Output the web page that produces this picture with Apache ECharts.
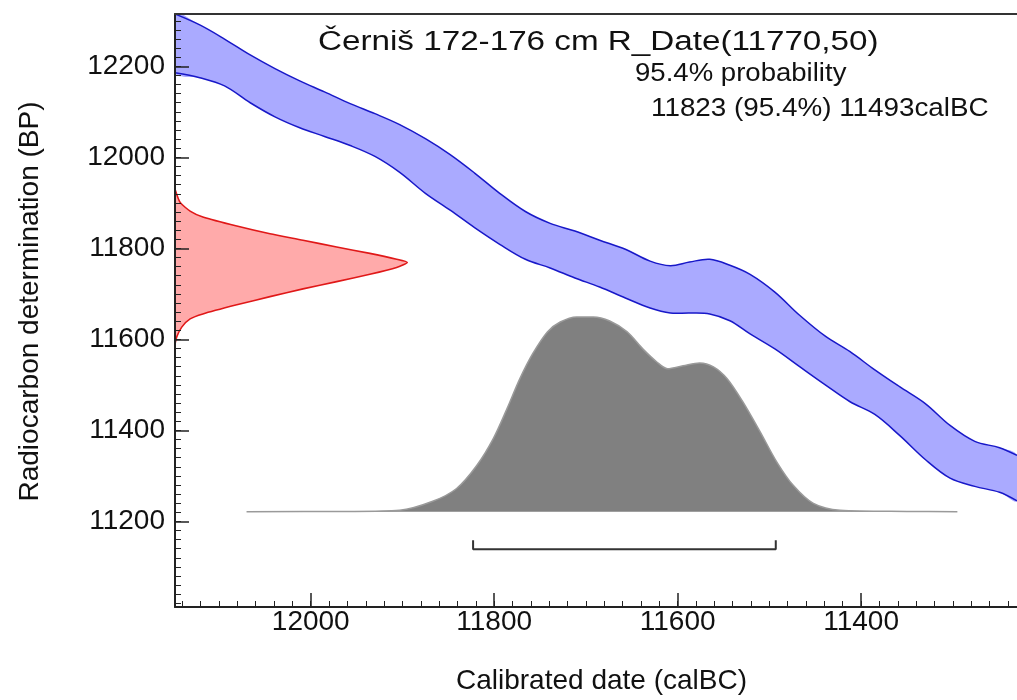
<!DOCTYPE html>
<html>
<head>
<meta charset="utf-8">
<title>Černiš 172-176 cm R_Date(11770,50)</title>
<script src="https://cdn.jsdelivr.net/npm/echarts@6/dist/echarts.min.js"></script>
<style>
html, body { margin: 0; padding: 0; background: #fff; }
#chart { width: 1017px; height: 700px; }
</style>
</head>
<body>
<div id="chart"></div>
<script>
// calibration curve band (calBC -> BP), upper and lower edge
var calBC = [12148, 12121, 12094, 12066, 12039, 12012, 11985, 11957, 11930, 11903, 11875, 11848,
	11821, 11794, 11766, 11739, 11712, 11685, 11657, 11630, 11608, 11587, 11565, 11543,
	11521, 11494, 11467, 11439, 11412, 11385, 11358, 11330, 11303, 11276, 11249, 11230];
var curveUpper = [12315, 12291, 12260, 12225, 12195, 12168, 12144, 12118, 12096, 12072, 12041, 12006,
	11965, 11921, 11881, 11855, 11838, 11818, 11798, 11772, 11762, 11770, 11776, 11763,
	11743, 11704, 11653, 11607, 11573, 11533, 11496, 11459, 11411, 11376, 11362, 11345];
var curveLower = [12186, 12175, 12157, 12120, 12089, 12065, 12046, 12026, 12002, 11967, 11921, 11884,
	11845, 11809, 11776, 11757, 11735, 11715, 11691, 11669, 11658, 11658, 11656, 11641,
	11612, 11579, 11540, 11500, 11463, 11435, 11389, 11336, 11295, 11277, 11264, 11245];

// radiocarbon determination R_Date(11770,50), relative probability
var rdateBP = [11930, 11901, 11882, 11869, 11849, 11832, 11818, 11803, 11789, 11776, 11769,
	11758, 11743, 11727, 11711, 11694, 11676, 11656, 11645, 11627, 11605, 11590];
var rdateProb = [0, 0.022, 0.065, 0.12, 0.266, 0.409, 0.551, 0.696, 0.839, 0.954, 1,
	0.954, 0.839, 0.696, 0.551, 0.409, 0.266, 0.12, 0.065, 0.029, 0.007, 0];

// calibrated date, relative probability
var postBC = [12070, 11960, 11903, 11867, 11841, 11819, 11801, 11786, 11772, 11758, 11742, 11728, 11710,
	11692, 11674, 11655, 11638, 11623, 11611, 11594, 11576, 11561, 11546, 11529, 11510,
	11492, 11474, 11452, 11423, 11350, 11295];
var postProb = [0, 0.001, 0.007, 0.053, 0.119, 0.237, 0.375, 0.529, 0.683, 0.811, 0.923, 0.974, 1.0,
	1.0, 0.979, 0.923, 0.836, 0.77, 0.734, 0.749, 0.764, 0.744, 0.683, 0.565, 0.41,
	0.256, 0.135, 0.042, 0.007, 0.001, 0];

// 95.4% range
var range954 = [11823, 11493];

// ticks
var xTicks = [12000, 11800, 11600, 11400];
var yTicks = [11200, 11400, 11600, 11800, 12000, 12200];
var xMinor = [];
for (var v = 11240; v <= 12140; v += 20) xMinor.push(v);
var yMinor = [];
for (var w = 11020; w <= 12300; w += 20) yMinor.push(w);

var font = 'Liberation Sans';
var xMin = 11230, xMax = 12148, yMin = 11012, yMax = 12315;
var axisColor = '#222';

var chart = echarts.init(document.getElementById('chart'));

function plain(v) { return String(v); }

var option = {
	animation: false,
	backgroundColor: '#fff',
	grid: { left: 175, right: 0, top: 14, bottom: 91, containLabel: false },
	xAxis: [
		{
			type: 'value', min: xMin, max: xMax, inverse: true, position: 'bottom', z: 5,
			axisLine: { show: true, onZero: false, lineStyle: { color: axisColor, width: 2 } },
			axisTick: { show: true, inside: true, length: 14, customValues: xTicks, lineStyle: { color: axisColor, width: 1.5 } },
			axisLabel: { customValues: xTicks, formatter: plain, margin: 1, color: '#111', fontSize: 28, fontFamily: font },
			splitLine: { show: false },
			name: 'Calibrated date (calBC)', nameLocation: 'middle', nameGap: 60,
			nameTextStyle: { color: '#111', fontSize: 28, fontFamily: font, padding: [0, 0, 0, 11] }
		},
		{
			// minor ticks
			type: 'value', min: xMin, max: xMax, inverse: true, position: 'bottom', z: 5,
			axisLine: { show: false, onZero: false },
			axisTick: { show: true, inside: true, length: 6, customValues: xMinor, lineStyle: { color: axisColor, width: 1 } },
			axisLabel: { show: false },
			splitLine: { show: false }
		},
		{
			// relative probability of the R_Date, drawn sideways from the y axis
			type: 'value', min: 0, max: 3.6246, show: false,
			axisLine: { onZero: false }
		},
		{
			// top frame line
			type: 'value', min: xMin, max: xMax, inverse: true, position: 'top', z: 5,
			axisLine: { show: true, onZero: false, lineStyle: { color: '#333', width: 2 } },
			axisTick: { show: false },
			axisLabel: { show: false },
			splitLine: { show: false }
		}
	],
	yAxis: [
		{
			type: 'value', min: yMin, max: yMax, position: 'left', z: 5,
			axisLine: { show: true, onZero: false, lineStyle: { color: axisColor, width: 2 } },
			axisTick: { show: true, inside: true, length: 14, customValues: yTicks, lineStyle: { color: axisColor, width: 1.5 } },
			axisLabel: { customValues: yTicks, formatter: plain, margin: 10, color: '#111', fontSize: 28, fontFamily: font },
			splitLine: { show: false },
			name: 'Radiocarbon determination (BP)', nameLocation: 'middle', nameRotate: 90, nameGap: 131,
			nameTextStyle: { color: '#111', fontSize: 28, fontFamily: font, padding: [0, 0, 0, 18] }
		},
		{
			// minor ticks
			type: 'value', min: yMin, max: yMax, position: 'left', z: 5,
			axisLine: { show: false, onZero: false },
			axisTick: { show: true, inside: true, length: 6, customValues: yMinor, lineStyle: { color: axisColor, width: 1 } },
			axisLabel: { show: false },
			splitLine: { show: false }
		},
		{
			// relative probability of the calibrated date
			type: 'value', min: -0.4898, max: 2.556, show: false,
			axisLine: { onZero: false }
		}
	],
	graphic: [
		{
			type: 'text', x: 318, y: 42.5, scaleX: 1.23, z: 10,
			style: { text: 'Černiš 172-176 cm R_Date(11770,50)', font: '27px "Liberation Sans"', fill: '#111',
				align: 'left', verticalAlign: 'middle', textAlign: 'left', textVerticalAlign: 'middle' }
		},
		{
			type: 'text', x: 635, y: 74, scaleX: 1.06, z: 10,
			style: { text: '95.4% probability', font: '26px "Liberation Sans"', fill: '#111',
				align: 'left', verticalAlign: 'middle', textAlign: 'left', textVerticalAlign: 'middle' }
		},
		{
			type: 'text', x: 651, y: 109, scaleX: 1.07, z: 10,
			style: { text: '11823 (95.4%) 11493calBC', font: '26px "Liberation Sans"', fill: '#111',
				align: 'left', verticalAlign: 'middle', textAlign: 'left', textVerticalAlign: 'middle' }
		}
	],
	series: [
		{
			type: 'custom', name: 'calibration curve', xAxisIndex: 0, yAxisIndex: 0, clip: true,
			data: calBC.map(function (x, i) { return [x, curveUpper[i], curveLower[i]]; }),
			encode: { x: 0, y: [1, 2] },
			renderItem: function (params, api) {
				if (params.dataIndex !== 0) return;
				var up = [], lo = [];
				for (var i = 0; i < calBC.length; i++) {
					up.push(api.coord([calBC[i], curveUpper[i]]));
					lo.push(api.coord([calBC[i], curveLower[i]]));
				}
				var ring = up.concat(lo.slice().reverse());
				return {
					type: 'group',
					children: [
						{ type: 'polygon', shape: { points: ring, smooth: 0.35 }, style: { fill: '#aaaaff', stroke: null } },
						{ type: 'polyline', shape: { points: up, smooth: 0.35 }, style: { fill: null, stroke: '#1818c8', lineWidth: 1.5 } },
						{ type: 'polyline', shape: { points: lo, smooth: 0.35 }, style: { fill: null, stroke: '#1818c8', lineWidth: 1.5 } }
					]
				};
			}
		},
		{
			type: 'custom', name: 'R_Date', xAxisIndex: 2, yAxisIndex: 0, clip: true,
			data: rdateBP.map(function (b, i) { return [rdateProb[i], b]; }),
			encode: { x: 0, y: 1 },
			renderItem: function (params, api) {
				if (params.dataIndex !== 0) return;
				var pts = [];
				for (var i = 0; i < rdateBP.length; i++) {
					pts.push(api.coord([rdateProb[i], rdateBP[i]]));
				}
				return {
					type: 'group',
					children: [
						{ type: 'polygon', shape: { points: pts, smooth: 0.2 }, style: { fill: '#ffaaaa', stroke: null } },
						{ type: 'polyline', shape: { points: pts, smooth: 0.2 }, style: { fill: null, stroke: '#e01818', lineWidth: 1.6 } }
					]
				};
			}
		},
		{
			type: 'line', name: 'calibrated', xAxisIndex: 0, yAxisIndex: 2,
			data: postBC.map(function (x, i) { return [x, postProb[i]]; }),
			showSymbol: false, symbol: 'none', smooth: 0.3,
			lineStyle: { color: '#9a9a9a', width: 1.5 },
			areaStyle: { color: '#808080', opacity: 1 }
		},
		{
			type: 'line', name: 'range', xAxisIndex: 0, yAxisIndex: 2,
			data: [[range954[0], -0.147], [range954[0], -0.193], [range954[1], -0.193], [range954[1], -0.147]],
			showSymbol: false, symbol: 'none',
			lineStyle: { color: '#333', width: 2 }
		}
	]
};
chart.setOption(option);
</script>
</body>
</html>
